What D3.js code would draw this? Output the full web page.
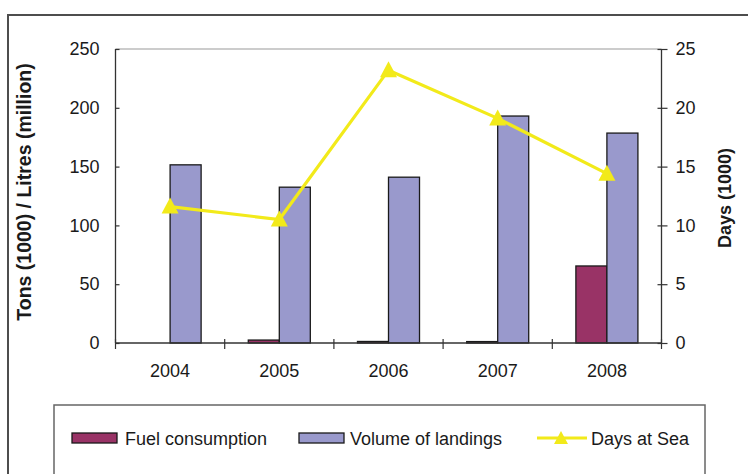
<!DOCTYPE html>
<html><head><meta charset="utf-8">
<script src="https://cdn.jsdelivr.net/npm/d3@7"></script>
<style>body{margin:0;background:#fff}svg{display:block;font-family:"Liberation Sans",Arial,sans-serif}</style>
</head><body>
<svg id="c" width="748" height="474"></svg>
<script>
const years = ["2004","2005","2006","2007","2008"];
const fuel = [0, 2.5, 1.3, 1.2, 65.5];
const landings = [151.5, 132.5, 141, 193, 178.5];
const daysAtSea = [11.6, 10.5, 23.2, 19.1, 14.4];
const leftTicks = [0,50,100,150,200,250];
const rightTicks = [0,5,10,15,20,25];
const seriesNames = ["Fuel consumption","Volume of landings","Days at Sea"];

const svg = d3.select("#c");
const L=115.5, R=661.5, T=49, B=343;
const txt="#1a1a1a";

// outer border
svg.append("rect").attr("x",8).attr("y",15).attr("width",760).attr("height",480)
  .attr("fill","none").attr("stroke","#4d4d4d").attr("stroke-width",2);

const x0 = d3.scaleBand().domain(years).range([L,R]).paddingInner(0).paddingOuter(0);
const bw = x0.bandwidth();
const x1 = d3.scaleBand().domain(["fuel","land"]).range([bw*0.216, bw*0.784]).padding(0);
const yL = d3.scaleLinear().domain([0,250]).range([B,T]);
const yR = d3.scaleLinear().domain([0,25]).range([B,T]);

// plot top border
svg.append("line").attr("x1",L).attr("x2",R).attr("y1",T).attr("y2",T).attr("stroke","#999").attr("stroke-width",1.2);

// bars
const g = svg.append("g");
years.forEach((yr,i)=>{
  g.append("rect").attr("x",x0(yr)+x1("fuel")).attr("width",x1.bandwidth())
   .attr("y",yL(fuel[i])).attr("height",B-yL(fuel[i]))
   .attr("fill","#993366").attr("stroke","#1a1a1a").attr("stroke-width",1.3);
  g.append("rect").attr("x",x0(yr)+x1("land")).attr("width",x1.bandwidth())
   .attr("y",yL(landings[i])).attr("height",B-yL(landings[i]))
   .attr("fill","#9999CC").attr("stroke","#1a1a1a").attr("stroke-width",1.3);
});

// axes
const axL = svg.append("g").attr("transform",`translate(${L},0)`)
  .call(d3.axisLeft(yL).tickValues(leftTicks).tickSize(6).tickPadding(10));
axL.selectAll(".tick line").attr("x2",4);
const axR = svg.append("g").attr("transform",`translate(${R},0)`)
  .call(d3.axisRight(yR).tickValues(rightTicks).tickSize(6).tickPadding(8));
axR.selectAll(".tick line").attr("x2",6).attr("x1",-4);
[axL,axR].forEach(a=>{
  a.select(".domain").attr("stroke","#333").attr("stroke-width",1.3).attr("d",`M0,${T}V${B}`);
  a.selectAll(".tick line").attr("stroke","#333").attr("stroke-width",1.2);
  a.selectAll("text").attr("font-size",18).attr("fill",txt).attr("font-family","Liberation Sans, Arial");
});
// bottom axis
svg.append("line").attr("x1",L).attr("x2",R).attr("y1",B).attr("y2",B).attr("stroke","#333").attr("stroke-width",1.3);
const bounds = years.map(d=>x0(d)).concat([x0(years[years.length-1])+bw]);
svg.selectAll(".xt").data(bounds).enter().append("line")
  .attr("x1",d=>d).attr("x2",d=>d).attr("y1",B-4).attr("y2",B+6).attr("stroke","#333").attr("stroke-width",1.2);
svg.selectAll(".xl").data(years).enter().append("text")
  .attr("x",d=>x0(d)+bw/2).attr("y",377).attr("text-anchor","middle")
  .attr("font-size",18).attr("fill",txt).text(d=>d);

// axis titles
svg.append("text").attr("transform","translate(31,192) rotate(-90)").attr("text-anchor","middle")
  .attr("font-size",19.5).attr("font-weight","bold").attr("fill",txt).text("Tons (1000) / Litres (million)");
svg.append("text").attr("transform","translate(731,198) rotate(-90)").attr("text-anchor","middle")
  .attr("font-size",18).attr("font-weight","bold").attr("fill",txt).text("Days (1000)");

// line
const yellow="#F2EA1A";
const line = d3.line().x((d,i)=>x0(years[i])+bw/2).y(d=>yR(d));
svg.append("path").datum(daysAtSea).attr("d",line).attr("fill","none").attr("stroke",yellow).attr("stroke-width",3.2);
const tri = "M0,-9L8.5,7L-8.5,7Z";
svg.selectAll(".mk").data(daysAtSea).enter().append("path")
  .attr("transform",(d,i)=>`translate(${x0(years[i])+bw/2},${yR(d)})`).attr("d",tri).attr("fill",yellow);

// legend
svg.append("rect").attr("x",54).attr("y",405).attr("width",651).attr("height",100)
  .attr("fill","none").attr("stroke","#666").attr("stroke-width",1.5);
const ly=438;
svg.append("rect").attr("x",72).attr("y",433).attr("width",45).attr("height",10).attr("fill","#993366").attr("stroke","#1a1a1a").attr("stroke-width",1.3);
svg.append("text").attr("x",125).attr("y",ly+6.5).attr("font-size",18).attr("fill",txt).text(seriesNames[0]);
svg.append("rect").attr("x",299).attr("y",433).attr("width",45).attr("height",10).attr("fill","#9999CC").attr("stroke","#1a1a1a").attr("stroke-width",1.3);
svg.append("text").attr("x",350).attr("y",ly+6.5).attr("font-size",18).attr("fill",txt).text(seriesNames[1]);
svg.append("line").attr("x1",537).attr("x2",587).attr("y1",ly).attr("y2",ly).attr("stroke",yellow).attr("stroke-width",3.2);
svg.append("path").attr("transform",`translate(561,${ly})`).attr("d","M0,-7L7,6L-7,6Z").attr("fill",yellow);
svg.append("text").attr("x",591).attr("y",ly+6.5).attr("font-size",18).attr("fill",txt).text(seriesNames[2]);
</script>
</body></html>
